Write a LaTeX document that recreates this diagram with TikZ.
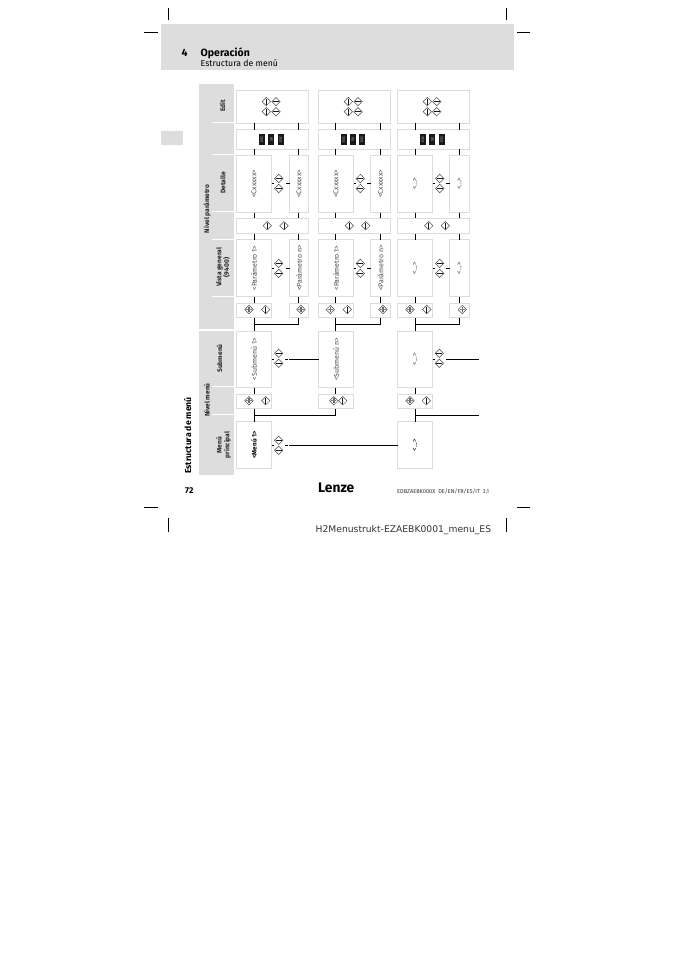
\documentclass[tikz,border=0pt]{standalone}
\usepackage{fontspec}
\setmainfont{Fira Sans}
\newfontfamily\notefont{DejaVu Sans}
\definecolor{panelgray}{HTML}{DDDDDD}
\definecolor{boxgray}{HTML}{DCDCDC}
\tikzset{
  x=1pt,y=-1pt,
  panel/.style={fill=panelgray,draw=none},
  sep/.style={draw=white,line width=1pt},
  boxx/.style={draw=boxgray,line width=.9pt,fill=white,inner sep=0pt,outer sep=0pt,anchor=north west},
  conn/.style={draw=black,line width=.8pt},
  crop/.style={draw=black,line width=.6pt},
  sidelabel/.style={rotate=90,font=\fontsize{6.6}{7.6}\selectfont\bfseries,align=center,inner sep=0pt,text=black!85},
  boxlabel/.style={rotate=90,font=\fontsize{7}{8}\selectfont,inner sep=0pt,text=black!70},
  keycap/.style={fill=black!90,minimum width=11pt,minimum height=6pt,inner sep=0pt,rotate=90,text=white!75!black,font=\fontsize{3.6}{4}\selectfont},
  dkey/.style={draw=black!70,line width=.5pt,fill=white,line join=miter},
  keymark/.style={draw=black!90,line width=.6pt},
}
\newcommand{\dshape}[2]{\draw[dkey] (#1-4.2,#2) -- (#1,#2-4.2) -- (#1+4.2,#2) -- (#1,#2+4.2) -- cycle;}
\newcommand{\vkey}[3]{\coordinate (#1) at (#2,#3); \dshape{#2}{#3}\draw[keymark] (#2,#3-3) -- (#2,#3+3);}
\newcommand{\hkey}[3]{\coordinate (#1) at (#2,#3); \dshape{#2}{#3}\draw[keymark] (#2-3,#3) -- (#2+3,#3);}
\newcommand{\bkey}[3]{\coordinate (#1) at (#2,#3); \dshape{#2}{#3}\draw[draw=black!60,line width=1.6pt] (#2,#3-2.6) -- (#2,#3+2.6);\draw[draw=black!50,line width=.5pt] (#2-2.6,#3) -- (#2+2.6,#3);}
\begin{document}
\begin{tikzpicture}
\useasboundingbox (0,0) rectangle (675,954);
\fill[white] (0,0) rectangle (675,954);
% header and tabs
\fill[panel] (161,24) rectangle (514,70);
\fill[panel] (161,131) rectangle (182.5,144.5);
\fill[panel] (199,84) rectangle (234,329);
\fill[panel] (199,331) rectangle (234,475);
\foreach \yy in {122.5,154,211,239,296,386,414}{\draw[sep] (212,\yy) -- (234,\yy);}
% crop marks
\draw[crop] (168,8) -- (168,20) (506,8) -- (506,20) (144,32) -- (158,32) (517,32) -- (530,32);
\draw[crop] (144,507.5) -- (158,507.5) (517,507.5) -- (530,507.5) (168,518) -- (168,532) (506,518) -- (506,532);
% header text
\node[anchor=base west,inner sep=0pt,font=\fontsize{10.5}{12}\selectfont\bfseries] (chap) at (181.5,56) {4};
\node[anchor=base west,inner sep=0pt,font=\fontsize{10.5}{12}\selectfont\bfseries] (ttl) at (200.5,56) {Operación};
\node[anchor=base west,inner sep=0pt,font=\fontsize{8.7}{10}\selectfont] (sub) at (200.5,66) {Estructura de menú};
% side labels
\node[rotate=90,inner sep=0pt,font=\fontsize{8.6}{10}\selectfont\bfseries] (sec) at (187.5,435.5) {Estructura de menú};
\node[sidelabel] (lnp) at (207,209) {Nivel parámetro};
\node[sidelabel] (lnm) at (207,400) {Nivel menú};
\node[sidelabel] (ledit) at (222.5,106) {Edit};
\node[sidelabel] (ldet) at (223,183) {Detalle};
\node[sidelabel] (lvis) at (223,267.5) {Vista general\\(9400)};
\node[sidelabel] (lsub) at (219.5,358.5) {Submenú};
\node[sidelabel] (lmen) at (223.5,445) {Menú\\principal};
% --- boxes
\foreach \c/\xa/\xb/\xc/\xd in {a/236.5/271.5/289.5/308.5,b/318.5/353.5/370.5/390.5,c/397.5/432.5/449.5/469.5}{
  \node[boxx,minimum width=\xd pt-\xa pt,minimum height=33pt] (edit\c) at (\xa,90) {};
  \node[boxx,minimum width=\xd pt-\xa pt,minimum height=19.5pt] (esc\c) at (\xa,129.5) {};
  \node[boxx,minimum width=\xb pt-\xa pt,minimum height=57.5pt] (detl\c) at (\xa,155) {};
  \node[boxx,minimum width=\xd pt-\xc pt,minimum height=57.5pt] (detr\c) at (\xc,155) {};
  \node[boxx,minimum width=\xd pt-\xa pt,minimum height=15.5pt] (nav\c) at (\xa,218) {};
  \node[boxx,minimum width=\xb pt-\xa pt,minimum height=57pt] (visl\c) at (\xa,239.5) {};
  \node[boxx,minimum width=\xd pt-\xc pt,minimum height=57pt] (visr\c) at (\xc,239.5) {};
  \node[boxx,minimum width=\xb pt-\xa pt,minimum height=14.5pt] (ovl\c) at (\xa,303) {};
  \node[boxx,minimum width=\xd pt-\xc pt,minimum height=14.5pt] (ovr\c) at (\xc,303) {};
  \node[boxx,minimum width=\xb pt-\xa pt,minimum height=56.5pt] (smn\c) at (\xa,331) {};
  \node[boxx,minimum width=\xb pt-\xa pt,minimum height=14.5pt] (snv\c) at (\xa,394) {};
}
\node[boxx,minimum width=35pt,minimum height=47pt] (mena) at (236.5,421.5) {};
\node[boxx,minimum width=35pt,minimum height=47pt] (menc) at (397.5,421.5) {};
% --- connector rails
\coordinate (lxa) at (254.3,0); \coordinate (rxa) at (298.4,0);
\coordinate (lxb) at (335.3,0); \coordinate (rxb) at (380.3,0);
\coordinate (lxc) at (415.7,0); \coordinate (rxc) at (459.3,0);
\coordinate (busov) at (0,324.3);
\coordinate (busmn) at (0,415.3);
\coordinate (exitA) at (479,415.3);
\coordinate (exitB) at (479,359.25);
\foreach \c in {a,b,c}{
  \foreach \s in {lx,rx}{
    \draw[conn] (\s\c |- edit\c.south) -- (\s\c |- esc\c.north);
    \draw[conn] (\s\c |- esc\c.south) -- (\s\c |- detl\c.north);
    \draw[conn] (\s\c |- detl\c.south) -- (\s\c |- nav\c.north);
    \draw[conn] (\s\c |- nav\c.south) -- (\s\c |- visl\c.north);
    \draw[conn] (\s\c |- visl\c.south) -- (\s\c |- ovl\c.north);
  }
  \draw[conn] (lx\c |- ovl\c.south) -- (lx\c |- smn\c.north);
  \draw[conn] (rx\c |- ovr\c.south) -- (rx\c |- busov) -- (lx\c |- busov);
  \draw[conn] (lx\c |- smn\c.south) -- (lx\c |- snv\c.north);
  % dashes either side of the key pairs
  \draw[conn] (detl\c.east) -- ++(2.5,0);
  \draw[conn] (detr\c.west) -- ++(-3.8,0);
  \draw[conn] (visl\c.east) -- ++(2.5,0);
  \draw[conn] (visr\c.west) -- ++(-3.8,0);
}
\draw[conn] (lxa |- snva.south) -- (lxa |- mena.north);
\draw[conn] (lxb |- snvb.south) -- (lxb |- busmn) -- (lxa |- busmn);
\draw[conn] (lxc |- snvc.south) -- (lxc |- menc.north);
\draw[conn] (lxc |- busmn) -- (exitA);
\draw[conn] (smna.east) -- ++(2.5,0);
\draw[conn] ([xshift=13.5pt]smna.east) -- ++(3,0);
\draw[conn] ([xshift=17.5pt]smna.east) -- (smnb.west);
\draw[conn] (mena.east) -- ++(2.5,0);
\draw[conn] ([xshift=13.5pt]mena.east) -- ++(3,0);
\draw[conn] ([xshift=17.5pt]mena.east) -- (menc.west);
\draw[conn] (smnc.east) -- ++(2.5,0);
\draw[conn] ([xshift=13.5pt]smnc.east) -- (exitB);
% --- keys: edit rows
\foreach \c/\xa/\xb in {a/266.3/276,b/348.3/358,c/427.3/436.7}{
  \vkey{e1\c}{\xa}{101.6}\hkey{e2\c}{\xb}{101.6}
  \vkey{e3\c}{\xa}{111.7}\hkey{e4\c}{\xb}{111.7}
}
% --- detail/overview key pairs
\foreach \c/\xx in {a/278.7,b/360.3,c/439.7}{
  \hkey{d1\c}{\xx}{178.5}\hkey{d2\c}{\xx}{188.5}
  \hkey{v1\c}{\xx}{263.4}\hkey{v2\c}{\xx}{273.4}
}
\hkey{s1a}{278.7}{353.3}\hkey{s2a}{278.7}{363.3}
\hkey{s1c}{439.3}{353.3}\hkey{s2c}{439.3}{363.3}
\hkey{m1a}{278.7}{440.3}\hkey{m2a}{278.7}{450.3}
% nav row
\foreach \c/\xa/\xb in {a/267.3/284,b/349.3/365.7,c/428.7/445.3}{
  \vkey{n1\c}{\xa}{225.7}\vkey{n2\c}{\xb}{225.7}
}
% overview rows
\foreach \c/\xa/\xb/\xr in {a/249/265.7/301,b/330.3/347.3/383,c/410/426.7/462.3}{
  \bkey{o1\c}{\xa}{309.5}\vkey{o2\c}{\xb}{309.5}\bkey{o3\c}{\xr}{309.5}
}
\bkey{p1a}{249}{400.7}\vkey{p2a}{265.7}{400.7}
\bkey{p1b}{333.7}{400.7}\vkey{p2b}{342.7}{400.7}
\bkey{p1c}{410}{400.7}\vkey{p2c}{426.3}{400.7}
% --- keycaps
\foreach \c/\xa/\xb/\xd in {a/262/271.3/280.7,b/343.7/353/362,c/423/432.3/441.7}{
  \node[keycap] (k1\c) at (\xa,139.3) {ESC};
  \node[keycap] (k2\c) at (\xb,139.3) {SK};
  \node[keycap] (k3\c) at (\xd,139.3) {ESC};
}
% --- box texts
\node[boxlabel] (t1) at (detla.center) {<Cxxxxx>};
\node[boxlabel] (t2) at (detra.center) {<Cxxxxx>};
\node[boxlabel] (t3) at (detlb.center) {<Cxxxxx>};
\node[boxlabel] (t4) at (detrb.center) {<Cxxxxx>};
\node[boxlabel] (t5) at (detlc.center) {<...>};
\node[boxlabel] (t6) at (detrc.center) {<...>};
\node[boxlabel] (t7) at (visla.center) {<Parámetro 1>};
\node[boxlabel] (t8) at (visra.center) {<Parámetro n>};
\node[boxlabel] (t9) at (vislb.center) {<Parámetro 1>};
\node[boxlabel] (t10) at (visrb.center) {<Parámetro n>};
\node[boxlabel] (t11) at (vislc.center) {<...>};
\node[boxlabel] (t12) at (visrc.center) {<...>};
\node[boxlabel] (t13) at (smna.center) {<Submenú 1>};
\node[boxlabel] (t14) at (smnb.center) {<Submenú n>};
\node[boxlabel] (t15) at (smnc.center) {<...>};
\node[boxlabel,font=\fontsize{6.4}{7}\selectfont\bfseries,text=black] (t16) at (mena.center) {<Menú 1>};
\node[boxlabel,text=black] (t17) at (menc.center) {<...>};
% footer
\node[anchor=base west,inner sep=0pt,font=\fontsize{8.5}{10}\selectfont\bfseries] (pg) at (185,493) {72};
\node[anchor=base west,inner sep=0pt,font=\fontsize{13.8}{14}\selectfont\bfseries] (logo) at (318,492) {Lenze};
\node[anchor=base west,inner sep=0pt,font=\fontsize{5.6}{6}\selectfont,text=black!80] (doc) at (397,493) {EDBZAEBK000X\ \ DE/EN/FR/ES/IT\ \ 3.1};
\node[anchor=base west,inner sep=0pt,font=\notefont\fontsize{9.2}{11}\selectfont,text=black!80] (note) at (315.5,532) {H2Menustrukt-EZAEBK0001\_menu\_ES};
\end{tikzpicture}
\end{document}
